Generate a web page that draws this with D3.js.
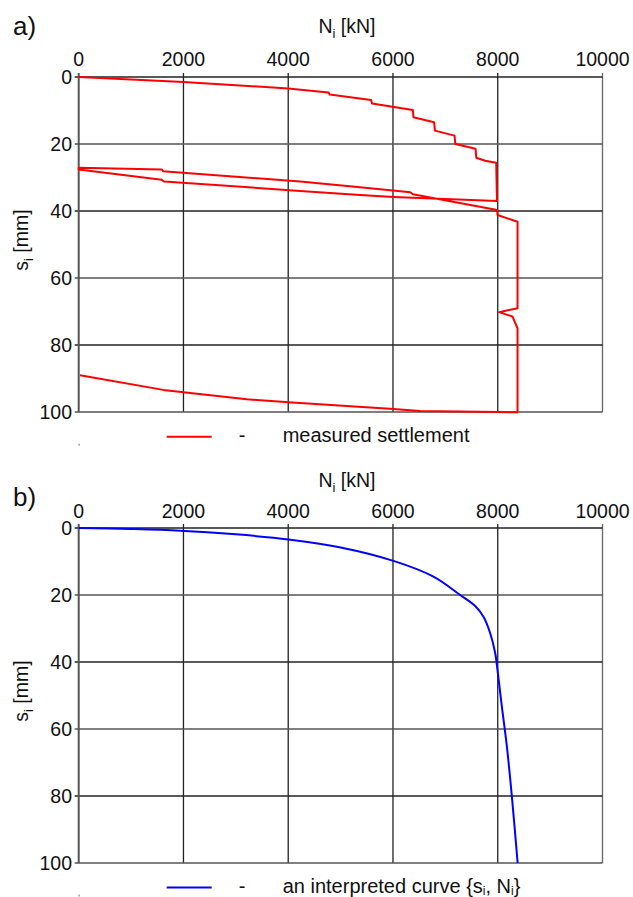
<!DOCTYPE html>
<html>
<head>
<meta charset="utf-8">
<script src="https://cdn.jsdelivr.net/npm/d3@7"></script>
<style>
  html, body { margin: 0; padding: 0; background: #fff; }
  svg { display: block; font-family: "Liberation Sans", Arial, sans-serif; }
</style>
</head>
<body>
<svg id="chart" width="633" height="897"></svg>
<script>
// ---- data ----
const xTicks = [0, 2000, 4000, 6000, 8000, 10000];
const yTicks = [0, 20, 40, 60, 80, 100];

// measured settlement: load N [kN], settlement s [mm]
const measuredN = [0, 2000, 4000, 4770, 4790, 5583, 5600, 6380, 6390, 6786, 6800, 7175, 7190, 7576, 7590, 7760, 7971,
  7985, 6010, 5373, 4229, 1630, 1585, 0,
  0, 1585, 1610, 4229, 5373, 6330, 6380, 7990, 7995, 8378, 8378, 8028, 8282, 8378, 8378,
  7984, 6519, 6010, 4004, 3208, 2000, 1616, 25];
const measuredS = [0, 1.5, 3.4, 4.6, 5.2, 6.9, 7.9, 9.85, 12.0, 13.5, 16.0, 17.5, 20.0, 21.4, 24.1, 25.0, 25.6,
  37.0, 35.8, 35.2, 34.0, 31.2, 30.7, 27.6,
  27.1, 27.6, 28.1, 31.2, 32.9, 34.4, 35.0, 39.7, 41.2, 43.2, 69.0, 70.2, 71.5, 75.0, 100.1,
  100.0, 99.7, 99.1, 97.1, 96.2, 94.1, 93.4, 89.0];

// interpreted curve {s_i, N_i}
const interpN = [0, 1000, 1939, 3000, 4004, 5000, 6010, 6773, 7283, 7569, 7728, 7856, 7952, 8003, 8079, 8175, 8270, 8380];
const interpS = [0, 0.3, 0.8, 1.9, 3.4, 5.8, 9.8, 14.5, 20.0, 23.3, 26.5, 31.4, 37.4, 43.4, 53.3, 65.3, 80.2, 100];

// ---- drawing ----
const svg = d3.select("#chart");
const fontSize = 19.5;

function panel(cfg) {
  const g = svg.append("g");
  const x = d3.scaleLinear().domain([0, 10000]).range([78.7, 602.5]);
  const y = d3.scaleLinear().domain([0, 100]).range([cfg.top, cfg.top + 335]);

  // grid verticals
  g.selectAll("line.vg").data(xTicks.slice(1)).enter().append("line")
    .attr("x1", d => x(d)).attr("x2", d => x(d))
    .attr("y1", y(0) - 4).attr("y2", y(100))
    .attr("stroke", (d, i) => d === 10000 ? "#666" : "#222").attr("stroke-width", 1.3);
  // grid horizontals
  g.selectAll("line.hg").data(yTicks.slice(1)).enter().append("line")
    .attr("x1", x(0) - 4).attr("x2", x(10000))
    .attr("y1", d => y(d)).attr("y2", d => y(d))
    .attr("stroke", (d, i) => (d === 20 || d === 60 || d === 100) ? "#555" : "#222").attr("stroke-width", 1.3);
  // top axis line
  g.append("line").attr("x1", x(0) - 4).attr("x2", x(10000)).attr("y1", y(0)).attr("y2", y(0))
    .attr("stroke", "#222").attr("stroke-width", 1.3);
  // left axis
  g.append("line").attr("x1", x(0)).attr("x2", x(0)).attr("y1", y(0) - 4).attr("y2", y(100))
    .attr("stroke", "#555").attr("stroke-width", 2);

  // x tick labels
  g.selectAll("text.xt").data(xTicks).enter().append("text")
    .attr("x", d => x(d)).attr("y", y(0) - cfg.tickGap)
    .attr("text-anchor", "middle").attr("font-size", fontSize).attr("fill", "#111")
    .text(d => d);
  // y tick labels
  g.selectAll("text.yt").data(yTicks).enter().append("text")
    .attr("x", 72).attr("y", d => y(d)).attr("dy", "0.36em")
    .attr("text-anchor", "end").attr("font-size", fontSize).attr("fill", "#111")
    .text(d => d);

  // x title
  const xt = g.append("text").attr("x", 347).attr("y", cfg.xTitleY)
    .attr("text-anchor", "middle").attr("font-size", fontSize).attr("fill", "#111");
  xt.append("tspan").text("N");
  xt.append("tspan").attr("font-size", 13).attr("dy", 5).text("i");
  xt.append("tspan").attr("dy", -5).text(" [kN]");

  // y title
  const yt = g.append("text").attr("transform", `translate(28,${cfg.top + 163}) rotate(-90)`)
    .attr("text-anchor", "middle").attr("font-size", fontSize).attr("fill", "#111");
  yt.append("tspan").text("s");
  yt.append("tspan").attr("font-size", 13).attr("dy", 5).text("i");
  yt.append("tspan").attr("dy", -5).text(" [mm]");

  // panel letter
  g.append("text").attr("x", 13).attr("y", cfg.letterY).attr("font-size", 26).attr("fill", "#111").text(cfg.letter);

  // curve
  const pts = cfg.N.map((n, i) => [n, cfg.S[i]]);
  const line = d3.line().x(d => x(d[0])).y(d => y(d[1])).curve(cfg.curve);
  g.append("path").attr("d", line(pts)).attr("fill", "none")
    .attr("stroke", cfg.color).attr("stroke-width", 2).attr("stroke-linejoin", "round");

  // legend
  g.append("line").attr("x1", 166.7).attr("x2", 211.7).attr("y1", cfg.legY).attr("y2", cfg.legY)
    .attr("stroke", cfg.color).attr("stroke-width", 2);
  g.append("text").attr("x", 242).attr("y", cfg.legY + 5).attr("text-anchor", "middle")
    .attr("font-size", 20).attr("fill", "#111").text("-");
  const lt = g.append("text").attr("x", 282.7).attr("y", cfg.legY + 5)
    .attr("font-size", 20).attr("fill", "#111");
  cfg.legend(lt);

  // small mark below plot
  g.append("rect").attr("x", 78.5).attr("y", cfg.legY + 7).attr("width", 1.2).attr("height", 2).attr("fill", "#888");
}

panel({
  top: 77, tickGap: 11, xTitleY: 33, letterY: 35, letter: "a)",
  N: measuredN, S: measuredS, color: "#ff0000", curve: d3.curveLinear, legY: 436.7,
  legend: t => t.text("measured settlement")
});

panel({
  top: 528, tickGap: 10, xTitleY: 487, letterY: 506, letter: "b)",
  N: interpN, S: interpS, color: "#0000ff", curve: d3.curveCatmullRom, legY: 887.5,
  legend: t => {
    t.append("tspan").text("an interpreted curve {s");
    t.append("tspan").attr("font-size", 12).attr("dy", 2.5).text("i");
    t.append("tspan").attr("dy", -2.5).text(", N");
    t.append("tspan").attr("font-size", 12).attr("dy", 2.5).text("i");
    t.append("tspan").attr("dy", -2.5).text("}");
  }
});
</script>
</body>
</html>
